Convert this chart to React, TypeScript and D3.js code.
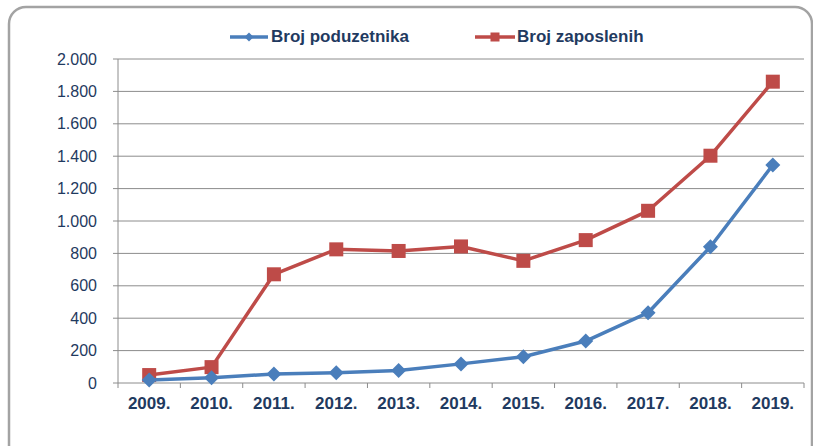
import React from "react";
import * as d3 from "d3";

const years = ["2009.", "2010.", "2011.", "2012.", "2013.", "2014.", "2015.", "2016.", "2017.", "2018.", "2019."];
const poduzetnika = [18, 33, 55, 64, 77, 118, 162, 259, 434, 841, 1346];
const zaposlenih = [49, 98, 671, 825, 815, 843, 754, 882, 1063, 1403, 1860];
const yTicks = [0, 200, 400, 600, 800, 1000, 1200, 1400, 1600, 1800, 2000];

const W = 813;
const H = 446;
const left = 118;
const right = 804;
const top = 59;
const bottom = 383;
const blue = "#4a7ebb";
const red = "#be4b48";
const navy = "#1f3a60";
const grid = "#8c8c8c";
const font = "'Liberation Sans', Arial, sans-serif";

const fmt = (v: number) => {
  const s = String(v);
  return s.length > 3 ? s.slice(0, s.length - 3) + "." + s.slice(-3) : s;
};

export default function App() {
  const x = d3.scaleBand<string>().domain(years).range([left, right]).paddingInner(0).paddingOuter(0);
  const y = d3.scaleLinear().domain([0, 2000]).range([bottom, top]);
  const cx = (d: string) => (x(d) as number) + x.bandwidth() / 2;
  const line = d3
    .line<number>()
    .x((_, i) => cx(years[i]))
    .y((v) => y(v));
  const diamond = (s: number) => `M0,${-s}L${s},0L0,${s}L${-s},0Z`;
  const bounds = years.map((d) => x(d) as number).concat([right]);

  return (
    <svg width={W} height={H} style={{ position: "absolute", left: 0, top: 0, background: "#fff" }} fontFamily={font}>
      <rect x={0} y={0} width={W} height={H} fill="#fff" />
      <rect x={9} y={7} width={803} height={470} rx={17} ry={17} fill="none" stroke="#a3a3a3" strokeWidth={2.5} />
      {yTicks.map((t) => (
        <g key={t}>
          {t > 0 && <line x1={left} x2={right} y1={y(t)} y2={y(t)} stroke={grid} strokeWidth={1} />}
          <line x1={left - 5} x2={left} y1={y(t)} y2={y(t)} stroke={grid} strokeWidth={1} />
          <text x={97} y={y(t) + 5.5} textAnchor="end" fontSize={16} fill={navy}>
            {fmt(t)}
          </text>
        </g>
      ))}
      <line x1={left} x2={left} y1={top} y2={bottom} stroke={grid} strokeWidth={1} />
      <line x1={left} x2={right} y1={bottom} y2={bottom} stroke={grid} strokeWidth={1} />
      {bounds.map((b, i) => (
        <line key={i} x1={b} x2={b} y1={bottom} y2={bottom + 5} stroke={grid} strokeWidth={1} />
      ))}
      {years.map((d) => (
        <text key={d} x={cx(d)} y={408.5} textAnchor="middle" fontSize={17} fontWeight="bold" fill={navy}>
          {d}
        </text>
      ))}
      <path d={line(zaposlenih) || ""} fill="none" stroke={red} strokeWidth={3.5} strokeLinejoin="round" />
      {zaposlenih.map((v, i) => (
        <rect key={i} x={cx(years[i]) - 7} y={y(v) - 7} width={14} height={14} fill={red} />
      ))}
      <path d={line(poduzetnika) || ""} fill="none" stroke={blue} strokeWidth={3.5} strokeLinejoin="round" />
      {poduzetnika.map((v, i) => (
        <path key={i} d={diamond(7.5)} transform={`translate(${cx(years[i])},${y(v)})`} fill={blue} />
      ))}
      <g>
        <line x1={230} x2={268} y1={37} y2={37} stroke={blue} strokeWidth={3.5} />
        <path d={diamond(4.5)} transform="translate(249,37)" fill={blue} />
        <text x={271} y={41.5} fontSize={17} fontWeight="bold" fill={navy}>
          Broj poduzetnika
        </text>
        <line x1={475} x2={515} y1={37} y2={37} stroke={red} strokeWidth={3.5} />
        <rect x={490.5} y={32.5} width={9} height={9} fill={red} />
        <text x={517} y={41.5} fontSize={17} fontWeight="bold" fill={navy}>
          Broj zaposlenih
        </text>
      </g>
    </svg>
  );
}
